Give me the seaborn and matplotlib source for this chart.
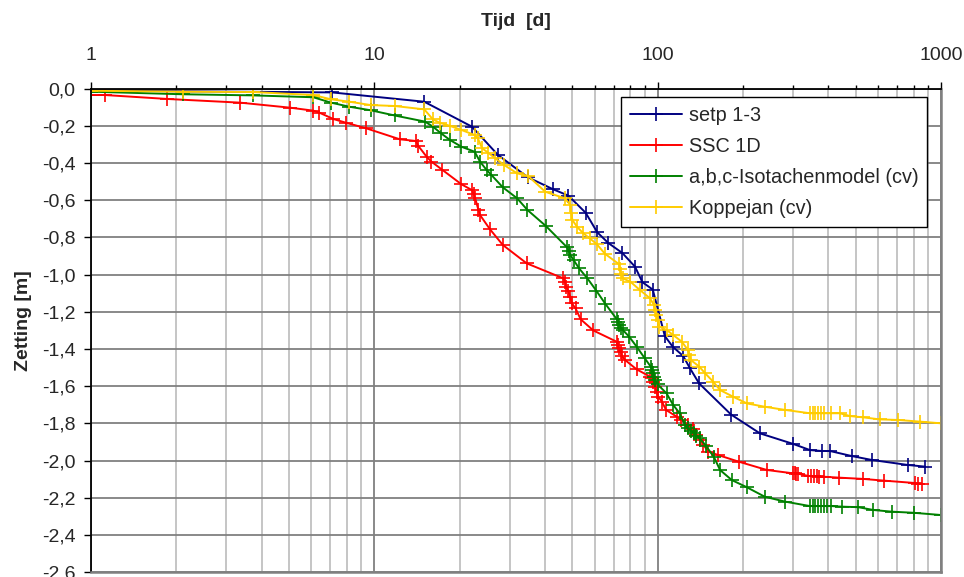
import matplotlib
matplotlib.use("Agg")
import matplotlib.pyplot as plt
import matplotlib.ticker as mticker
import seaborn as sns
import pandas as pd

# ---------------- data ----------------
series_names = ["setp 1-3", "SSC 1D", "a,b,c-Isotachenmodel (cv)", "Koppejan (cv)"]

x_setp = [1, 7.1, 15, 22.1, 27.3, 34.8, 42.8, 48.4, 55.7, 61.2, 67, 75, 83.2, 88.3, 96.1,
          106, 113, 123, 130, 140, 181.6, 229.6, 301, 345, 381, 406, 484, 570, 764, 880]
y_setp = [-0.01, -0.02, -0.07, -0.204, -0.356, -0.476, -0.541, -0.575, -0.667, -0.772,
          -0.830, -0.883, -0.957, -1.04, -1.08, -1.33, -1.387, -1.437, -1.503, -1.584,
          -1.752, -1.853, -1.910, -1.943, -1.948, -1.948, -1.975, -1.996, -2.023, -2.032]

x_ssc = [0.9, 1.12, 1.85, 3.36, 5.04, 6.09, 6.4, 7.17, 7.94, 9.32, 12.3, 14.0, 14.3, 15.3,
         15.9, 17.4, 20.3, 22.1, 22.4, 22.7, 23.3, 23.6, 25.6, 28.4, 34.5, 46.5, 47.0, 47.6,
         48.3, 49.1, 49.8, 51.3, 53.5, 59.3, 71.6, 72.3, 73.1, 74.0, 74.8, 76.8, 84.3, 94.0,
         95.3, 96.5, 97.8, 99.1, 100.5, 103.5, 107, 116.7, 121, 128.3, 133, 137, 141, 145,
         151, 163, 193, 243, 301, 305, 309, 313, 340, 348, 356, 364, 372, 385, 435, 532,
         627, 810, 830, 855]
y_ssc = [-0.034, -0.034, -0.055, -0.075, -0.102, -0.118, -0.129, -0.163, -0.183, -0.212,
         -0.272, -0.281, -0.308, -0.366, -0.392, -0.437, -0.514, -0.545, -0.565, -0.589,
         -0.652, -0.679, -0.756, -0.840, -0.939, -1.02, -1.038, -1.065, -1.086, -1.118,
         -1.154, -1.181, -1.24, -1.30, -1.360, -1.378, -1.396, -1.414, -1.437, -1.459,
         -1.509, -1.548, -1.557, -1.575, -1.602, -1.629, -1.656, -1.682, -1.727, -1.763,
         -1.781, -1.808, -1.83, -1.86, -1.889, -1.915, -1.951, -1.969, -2.005, -2.05,
         -2.068, -2.068, -2.07, -2.07, -2.082, -2.083, -2.084, -2.084, -2.085, -2.086,
         -2.091, -2.098, -2.107, -2.12, -2.123, -2.125]

x_abc = [1, 2.12, 3.74, 6.09, 7.03, 8.17, 9.71, 11.8, 15.1, 16.1, 17.2, 18.5, 20.3, 22.6,
         23.6, 24.9, 25.9, 28.4, 31.9, 34.7, 40.3, 47.9, 48.5, 49.2, 50.5, 52.8, 56.5, 60.8,
         65.3, 71.7, 72.5, 73.3, 74.2, 75.3, 79.3, 84.3, 90.1, 94.5, 95.3, 96.2, 97, 98, 100,
         107.5, 113.4, 119.6, 125, 128, 131, 134, 137, 141, 148, 158, 166, 182.6, 206.5, 239,
         281.6, 345, 352, 360, 368, 376, 385, 395, 410, 447, 511, 577, 670, 800, 1000]
y_abc = [-0.016, -0.030, -0.036, -0.046, -0.075, -0.097, -0.116, -0.144, -0.177, -0.204,
         -0.240, -0.276, -0.312, -0.339, -0.392, -0.437, -0.464, -0.530, -0.589, -0.652,
         -0.738, -0.853, -0.872, -0.895, -0.921, -0.966, -1.02, -1.087, -1.156, -1.239,
         -1.255, -1.27, -1.285, -1.297, -1.333, -1.387, -1.45, -1.494, -1.51, -1.53, -1.548,
         -1.566, -1.59, -1.638, -1.70, -1.745, -1.81, -1.825, -1.84, -1.85, -1.865, -1.88,
         -1.92, -1.98, -2.05, -2.104, -2.143, -2.194, -2.22, -2.244, -2.244, -2.244, -2.244,
         -2.244, -2.244, -2.244, -2.244, -2.247, -2.25, -2.265, -2.274, -2.28, -2.292]

x_kop = [1, 2.12, 3.74, 6.09, 7.03, 8.17, 9.71, 11.8, 15.0, 16.1, 17.0, 18.5, 20.3, 22.6,
         23.2, 24.0, 25.2, 26.7, 28.7, 31.9, 34.9, 40.1, 47.0, 49.2, 49.6, 50.0, 51.9, 54.6,
         57.5, 60.9, 65.2, 73.0, 73.6, 74.4, 75.2, 80, 86.5, 94, 97, 98, 99, 100, 101.5,
         107.5, 113.4, 121.6, 128, 129.5, 131, 140.4, 147, 157, 166, 184.6, 206.5, 239,
         281.6, 345, 352, 360, 368, 376, 385, 410, 440, 477, 532, 609, 706, 844, 1000]
y_kop = [-0.011, -0.016, -0.018, -0.034, -0.057, -0.07, -0.088, -0.093, -0.111, -0.165,
         -0.183, -0.2, -0.222, -0.249, -0.267, -0.320, -0.344, -0.374, -0.41, -0.455,
         -0.469, -0.554, -0.589, -0.625, -0.67, -0.706, -0.742, -0.777, -0.804, -0.835,
         -0.888, -0.943, -0.97, -0.996, -1.02, -1.037, -1.082, -1.127, -1.163, -1.19,
         -1.217, -1.244, -1.28, -1.297, -1.324, -1.36, -1.405, -1.432, -1.459, -1.495,
         -1.530, -1.575, -1.62, -1.656, -1.692, -1.710, -1.727, -1.745, -1.745, -1.745,
         -1.745, -1.745, -1.745, -1.745, -1.745, -1.76, -1.767, -1.778, -1.781, -1.79,
         -1.799]

x_ticks = [1, 10, 100, 1000]
x_tick_labels = ["1", "10", "100", "1000"]
y_ticks = [0.0, -0.2, -0.4, -0.6, -0.8, -1.0, -1.2, -1.4, -1.6, -1.8, -2.0, -2.2, -2.4, -2.6]
x_title = "Tijd  [d]"
y_title = "Zetting [m]"

colors = ["#000080", "#FF0000", "#008000", "#FFCC00"]

# ---------------- plot ----------------
sns.set_theme(style="white")
plt.rcParams["font.family"] = ["Liberation Sans", "DejaVu Sans"]

fig = plt.figure(figsize=(9.64, 5.77), dpi=100)
ax = fig.add_axes([91 / 964, 1 - 572.3 / 577, 850 / 964, 483.6 / 577])

all_x = [x_setp, x_ssc, x_abc, x_kop]
all_y = [y_setp, y_ssc, y_abc, y_kop]
for name, xs, ys, c in zip(series_names, all_x, all_y, colors):
    df = pd.DataFrame({"t": xs, "z": ys})
    sns.lineplot(data=df, x="t", y="z", ax=ax, color=c, sort=False, estimator=None,
                 marker="+", markersize=10, markeredgewidth=1.2, markeredgecolor=c,
                 linewidth=1.4, label=name)

ax.set_xscale("log")
ax.set_xlim(1, 1000)
ax.set_ylim(-2.6, 0)

ax.xaxis.tick_top()
ax.xaxis.set_label_position("top")
ax.set_xticks(x_ticks)
ax.set_xticklabels(x_tick_labels)
ax.xaxis.set_minor_locator(mticker.LogLocator(base=10, subs=range(2, 10)))
ax.xaxis.set_minor_formatter(mticker.NullFormatter())
ax.set_yticks(y_ticks)
ax.yaxis.set_major_formatter(
    mticker.FuncFormatter(lambda v, p: ("%.1f" % v).replace(".", ",").replace("-0,0", "0,0")))

ax.tick_params(axis="x", which="major", top=True, bottom=False, direction="out",
               length=5, width=1, color="black", labelsize=14, pad=13)
ax.tick_params(axis="x", which="minor", top=True, bottom=False, direction="out",
               length=3, width=1, color="black")
ax.tick_params(axis="y", which="major", left=True, direction="out", length=5, width=1,
               color="black", labelsize=14, pad=6)

ax.set_xlabel(x_title, fontsize=14, fontweight="bold")
ax.set_ylabel(y_title, fontsize=14, fontweight="bold")
ax.xaxis.label.set_va("center")
ax.yaxis.label.set_va("center")
ax.xaxis.set_label_coords(0.5, 1 + (88.7 - 21) / 483.6)
ax.yaxis.set_label_coords(-(91 - 24) / 850, 0.52)

# grid
ax.grid(False)
ax.set_axisbelow(True)
ax.yaxis.grid(True, which="major", color="#808080", linewidth=1.3)
ax.xaxis.grid(True, which="minor", color="#c0c0c0", linewidth=1.3)
ax.xaxis.grid(True, which="major", color="#808080", linewidth=1.3)

for side in ["left", "top"]:
    ax.spines[side].set_color("black")
    ax.spines[side].set_linewidth(1.3)
for side in ["right", "bottom"]:
    ax.spines[side].set_color("#808080")
    ax.spines[side].set_linewidth(1.8)

leg = ax.legend(loc="upper left", bbox_to_anchor=((621 - 91) / 850, 1 - (97 - 88.7) / 483.6),
                frameon=True, fancybox=False, edgecolor="black", facecolor="white",
                framealpha=1, fontsize=14.3, labelspacing=0.6, borderpad=0.45,
                handlelength=2.6, handletextpad=0.35, borderaxespad=0)
leg.get_frame().set_linewidth(1.0)

fig.savefig("out.png", dpi=100)
